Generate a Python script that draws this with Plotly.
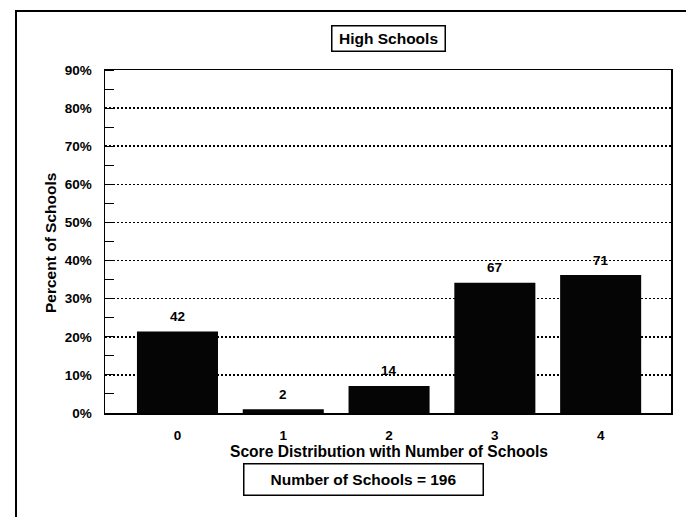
import plotly.graph_objects as go

# ---- data ----
scores = ["0", "1", "2", "3", "4"]
school_counts = [42, 2, 14, 67, 71]
percent_of_schools = [21.4, 1.0, 7.1, 34.2, 36.2]
y_tick_values = [0, 10, 20, 30, 40, 50, 60, 70, 80, 90]
y_tick_labels = ["0%", "10%", "20%", "30%", "40%", "50%", "60%", "70%", "80%", "90%"]
chart_title = "High Schools"
x_title = "Score Distribution with Number of Schools"
y_title = "Percent of Schools"
footer_text = "Number of Schools = 196"

FONT = "Liberation Sans, Arial, sans-serif"
W, H = 686, 517
L, R, T, B = 105, 15, 70, 104
PW, PH = W - L - R, H - T - B


def px(x):
    return (x - L) / PW


def py(y):
    return (H - B - y) / PH


fig = go.Figure()
fig.add_trace(go.Bar(
    x=scores, y=percent_of_schools, width=0.766,
    marker=dict(color="#050505", line=dict(width=0)),
    hoverinfo="skip", showlegend=False,
))

annotations = []
for s, c, p in zip(scores, school_counts, percent_of_schools):
    annotations.append(dict(
        x=s, y=p, xref="x", yref="y", text=str(c), showarrow=False,
        yanchor="middle", yshift=15,
        font=dict(family=FONT, size=13.5, color="black", weight="bold"),
    ))

# title box
annotations.append(dict(
    x=px(388), y=py(38.5), xref="paper", yref="paper", text=chart_title,
    showarrow=False, xanchor="center", yanchor="middle",
    font=dict(family=FONT, size=15.5, color="black", weight="bold"),
    bordercolor="black", borderwidth=1.5, borderpad=0, width=112, height=24,
    bgcolor="white",
))
# x axis title
annotations.append(dict(
    x=px(389), y=py(451), xref="paper", yref="paper", text=x_title,
    showarrow=False, xanchor="center", yanchor="middle",
    font=dict(family=FONT, size=15.6, color="black", weight="bold"),
))
# y axis title
annotations.append(dict(
    x=px(51), y=py(243), xref="paper", yref="paper", text=y_title,
    showarrow=False, xanchor="center", yanchor="middle", textangle=-90,
    font=dict(family=FONT, size=15.5, color="black", weight="bold"),
))
# footer box
annotations.append(dict(
    x=px(363.5), y=py(479.5), xref="paper", yref="paper", text=footer_text,
    showarrow=False, xanchor="center", yanchor="middle",
    font=dict(family=FONT, size=15.5, color="black", weight="bold"),
    bordercolor="black", borderwidth=1.5, borderpad=0, width=238, height=30,
    bgcolor="white",
))

shapes = [
    # outer frame: left and top lines
    dict(type="line", xref="paper", yref="paper", x0=px(16), x1=px(16),
         y0=py(11), y1=py(517), line=dict(color="black", width=2)),
    dict(type="line", xref="paper", yref="paper", x0=px(15), x1=px(686),
         y0=py(11), y1=py(11), line=dict(color="black", width=2)),
]

fig.update_layout(
    width=W, height=H,
    margin=dict(l=L, r=R, t=T, b=B, pad=0),
    paper_bgcolor="white", plot_bgcolor="white",
    font=dict(family=FONT, color="black"),
    annotations=annotations, shapes=shapes,
    bargap=0.2,
    xaxis=dict(
        type="category", range=[-0.685, 4.665],
        showline=True, linecolor="black", linewidth=1.5, mirror=True,
        showgrid=False, zeroline=False,
        ticks="outside", ticklen=9, tickcolor="rgba(0,0,0,0)",
        tickfont=dict(family=FONT, size=13.5, color="black", weight="bold"),
    ),
    yaxis=dict(
        range=[0, 90], tickvals=y_tick_values, ticktext=y_tick_labels,
        showline=True, linecolor="black", linewidth=1.5, mirror=True,
        showgrid=True, gridcolor="black", gridwidth=1.5, griddash="2px,2px",
        zeroline=False,
        ticks="", ticklabelstandoff=9,
        tickfont=dict(family=FONT, size=13.5, color="black", weight="bold"),
        minor=dict(dtick=5, tick0=5, ticks="inside", ticklen=9,
                   tickcolor="black", tickwidth=1, showgrid=False),
    ),
)

fig.write_html(
    "out.html",
    config={"displayModeBar": False, "staticPlot": True},
    post_script="document.body.style.margin='0px';document.body.style.overflow='hidden';",
)
